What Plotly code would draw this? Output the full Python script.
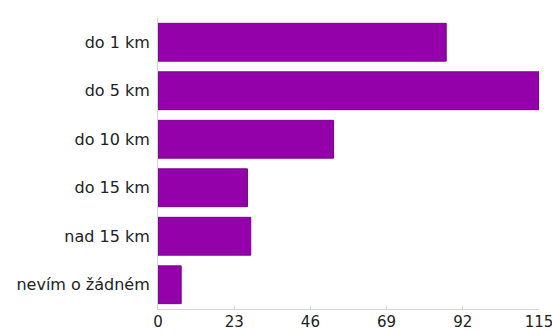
import plotly.graph_objects as go

categories = ["do 1 km", "do 5 km", "do 10 km", "do 15 km", "nad 15 km", "nevím o žádném"]
values = [87, 115, 53, 27, 28, 7]
tick_vals = [0, 23, 46, 69, 92, 115]

fig = go.Figure(go.Bar(
    x=values, y=categories, orientation="h",
    marker=dict(color="#9400AA", line=dict(color="#7A0090", width=1)),
))

fig.update_layout(
    width=552, height=333,
    margin=dict(l=158, r=13, t=18, b=24),
    paper_bgcolor="white", plot_bgcolor="white",
    bargap=0.22,
    showlegend=False,
    font=dict(family="DejaVu Sans", size=16, color="#222"),
)
fig.update_xaxes(
    range=[0, 115.001], tickvals=tick_vals, ticktext=[str(v) for v in tick_vals],
    showgrid=False, zeroline=False, automargin=False,
    showline=True, linecolor="#d4d4d4", linewidth=1,
    ticks="inside", ticklen=3, tickcolor="#d4d4d4",
    ticklabeloverflow="allow", ticklabelstandoff=-1,
    tickfont=dict(size=15, color="#222"),
)
fig.update_yaxes(
    categoryorder="array", categoryarray=categories, autorange="reversed",
    showgrid=False, zeroline=False, automargin=False,
    showline=True, linecolor="#c0e4c0", linewidth=1,
    ticks="", ticklabelstandoff=4,
    tickfont=dict(size=16, color="#222"),
)

fig.write_html("out.html")
